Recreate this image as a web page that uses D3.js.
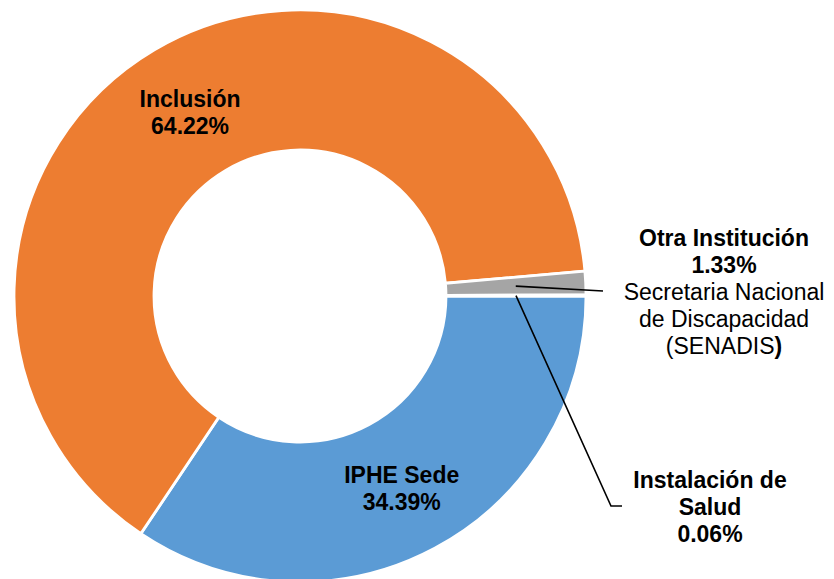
<!DOCTYPE html>
<html>
<head>
<meta charset="utf-8">
<script src="https://cdn.jsdelivr.net/npm/d3@7"></script>
<style>
  html, body { margin: 0; padding: 0; background: #fff; }
  svg { display: block; }
  text { font-family: "Liberation Sans", Arial, sans-serif; fill: #000; }
</style>
</head>
<body>
<svg id="chart" width="834" height="579"></svg>
<script>
// ---- data ----
const categories = ["IPHE Sede", "Inclusión", "Otra Institución", "Instalación de Salud"];
const values = [34.39, 64.22, 1.33, 0.06];
const colors = ["#5B9BD5", "#ED7D31", "#A5A5A5", "#FFC000"];
const labelLines = [
  [{t: "IPHE Sede", b: true}, {t: "34.39%", b: true}],
  [{t: "Inclusión", b: true}, {t: "64.22%", b: true}],
  [{t: "Otra Institución", b: true}, {t: "1.33%", b: true}, {t: "Secretaria Nacional", b: false}, {t: "de Discapacidad", b: false}, {t: "(SENADIS", b: false, tail: ")"}],
  [{t: "Instalación de", b: true}, {t: "Salud", b: true}, {t: "0.06%", b: true}]
];

// ---- layout ----
const W = 834, H = 579;
const cx = 300, cy = 296;
const rOut = 286, rIn = 146;
const fontSize = 23, lineH = 27;

const svg = d3.select("#chart");
const g = svg.append("g").attr("transform", `translate(${cx},${cy})`);

const pie = d3.pie().sort(null).value(d => d)
  .startAngle(Math.PI / 2).endAngle(Math.PI / 2 + 2 * Math.PI);
const arcs = pie(values);
const arc = d3.arc().innerRadius(rIn).outerRadius(rOut);
const midArc = d3.arc().innerRadius((rIn + rOut) / 2).outerRadius((rIn + rOut) / 2);

g.selectAll("path.slice").data(arcs).enter().append("path")
  .attr("class", "slice")
  .attr("d", arc)
  .attr("fill", (d, i) => colors[i])
  .attr("stroke", "#fff")
  .attr("stroke-width", 2.8)
  .attr("stroke-linejoin", "miter");

// inside labels (centroid)
[0, 1].forEach(i => {
  const [x, y] = arc.centroid(arcs[i]);
  const lines = labelLines[i];
  const t = g.append("text").attr("text-anchor", "middle")
    .attr("font-size", fontSize).attr("font-weight", "bold");
  lines.forEach((l, k) => {
    t.append("tspan").attr("x", x)
      .attr("y", y + (k - (lines.length - 1) / 2) * lineH + 10)
      .text(l.t);
  });
});

// outside labels with leader lines
const outside = [
  {i: 2, x: 724, y: 246, leader: (p) => [[p[0], p[1]], [603, 291]]},
  {i: 3, x: 710, y: 488, leader: (p) => [[p[0], p[1]], [611, 506], [622, 506]]}
];
outside.forEach(o => {
  const p = midArc.centroid(arcs[o.i]);
  const pts = o.leader([p[0] + cx, p[1] + cy]);
  svg.append("path")
    .attr("d", d3.line()(pts))
    .attr("fill", "none").attr("stroke", "#000").attr("stroke-width", 1.6);
  const lines = labelLines[o.i];
  const t = svg.append("text").attr("text-anchor", "middle").attr("font-size", fontSize);
  lines.forEach((l, k) => {
    t.append("tspan").attr("x", o.x).attr("y", o.y + k * lineH)
      .attr("font-weight", l.b ? "bold" : "normal").text(l.t);
    if (l.tail) {
      t.append("tspan").attr("font-weight", "bold").text(l.tail);
    }
  });
});
</script>
</body>
</html>
